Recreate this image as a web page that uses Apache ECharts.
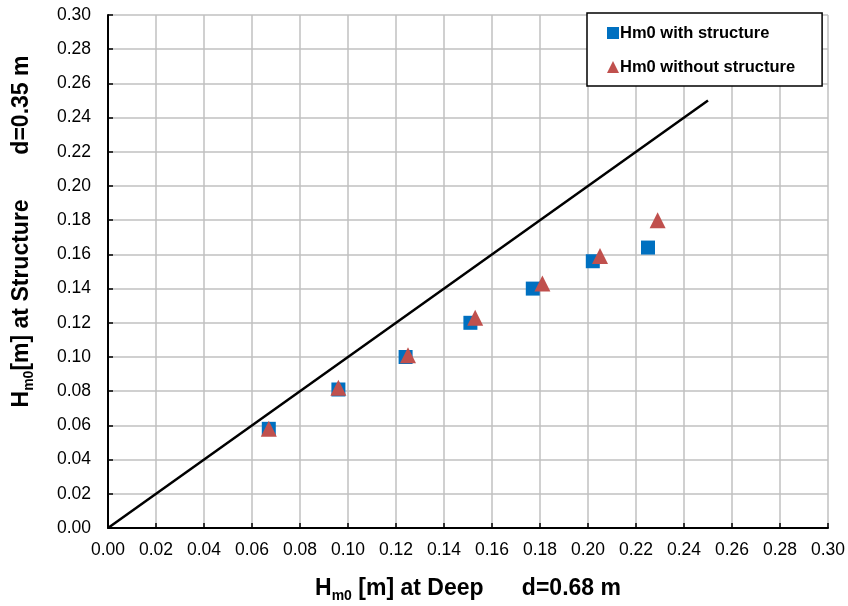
<!DOCTYPE html>
<html lang="en">
<head>
  <meta charset="UTF-8">
  <title>Hm0 structure vs deep</title>
  <style>
    html, body { margin: 0; padding: 0; background: #ffffff; }
    #main { width: 848px; height: 606px; }
  </style>
  <script src="https://cdn.jsdelivr.net/npm/echarts@6/dist/echarts.min.js"></script>
</head>
<body>
  <div id="main"></div>
  <script>
    // Hm0 at deep water (x) vs Hm0 at structure (y)
    var withStructure = [
      [0.067, 0.058], [0.096, 0.081], [0.124, 0.100], [0.151, 0.120],
      [0.177, 0.140], [0.202, 0.156], [0.225, 0.164]
    ];
    var withoutStructure = [
      [0.067, 0.058], [0.096, 0.082], [0.125, 0.101], [0.153, 0.123],
      [0.181, 0.143], [0.205, 0.159], [0.229, 0.180]
    ];
    var equalLine = [[0, 0], [0.25, 0.25]];
    var seriesNames = ['Hm0 with structure', 'Hm0 without structure'];

    var font = 'Liberation Sans, Arial, sans-serif';
    function nameRich(size) {
      return {
        b: { fontFamily: font, fontSize: size, fontWeight: 'bold', color: '#000', lineHeight: 28 },
        s: { fontFamily: font, fontSize: Math.round(size * 0.6), fontWeight: 'bold', color: '#000', lineHeight: 28, verticalAlign: 'bottom', padding: [11, 0, 0, 0] }
      };
    }
    var tickFmt = function (v) { return v.toFixed(2); };

    var myChart = echarts.init(document.getElementById('main'));
    var option = {
      animation: false,
      grid: { left: 108, right: 20, top: 15, bottom: 78, containLabel: false, outerBoundsMode: 'none' },
      legend: {
        orient: 'vertical',
        left: 587,
        top: 13,
        padding: [10, 27, 9, 20],
        itemGap: 14,
        itemWidth: 12,
        itemHeight: 12,
        backgroundColor: '#fff',
        borderColor: '#000',
        borderWidth: 1.5,
        borderRadius: 0,
        textStyle: { fontFamily: font, fontSize: 16.5, fontWeight: 'bold', color: '#000', lineHeight: 20, padding: [0, 0, 0, -4] },
        data: [
          { name: seriesNames[0], icon: 'rect' },
          { name: seriesNames[1], icon: 'triangle' }
        ]
      },
      xAxis: {
        type: 'value',
        min: 0,
        max: 0.30,
        interval: 0.02,
        name: '{b|H}{s|m0}{b| [m] at Deep      d=0.68 m}',
        nameLocation: 'middle',
        nameGap: 47,
        nameTextStyle: { rich: nameRich(23) },
        axisLine: { lineStyle: { color: '#000', width: 2 } },
        axisTick: { inside: true, length: 5, lineStyle: { color: '#000', width: 1.5 } },
        axisLabel: { fontFamily: font, fontSize: 17.5, color: '#000', margin: 13, formatter: tickFmt },
        splitLine: { show: true, lineStyle: { color: '#c0c0c0', width: 1.5 } }
      },
      yAxis: {
        type: 'value',
        min: 0,
        max: 0.30,
        interval: 0.02,
        name: '{b|H}{s|m0}{b|[m] at Structure       d=0.35 m}',
        nameLocation: 'middle',
        nameGap: 72,
        nameTextStyle: { rich: nameRich(23), padding: [0, 0, 0, 80] },
        axisLine: { show: true, lineStyle: { color: '#000', width: 2 } },
        axisTick: { show: true, inside: true, length: 5, lineStyle: { color: '#000', width: 1.5 } },
        axisLabel: { fontFamily: font, fontSize: 17.5, color: '#000', margin: 17, formatter: tickFmt },
        splitLine: { show: true, lineStyle: { color: '#c0c0c0', width: 1.5 } }
      },
      series: [
        {
          name: 'equal',
          type: 'line',
          data: equalLine,
          showSymbol: false,
          lineStyle: { color: '#000', width: 2.5 },
          silent: true,
          z: 1
        },
        {
          name: seriesNames[0],
          type: 'scatter',
          data: withStructure,
          symbol: 'rect',
          symbolSize: 14,
          itemStyle: { color: '#0070c0', opacity: 1 },
          z: 2
        },
        {
          name: seriesNames[1],
          type: 'scatter',
          data: withoutStructure,
          symbol: 'triangle',
          symbolSize: 16,
          itemStyle: { color: '#c0504d', opacity: 1 },
          z: 3
        }
      ]
    };
    myChart.setOption(option);
  </script>
</body>
</html>
